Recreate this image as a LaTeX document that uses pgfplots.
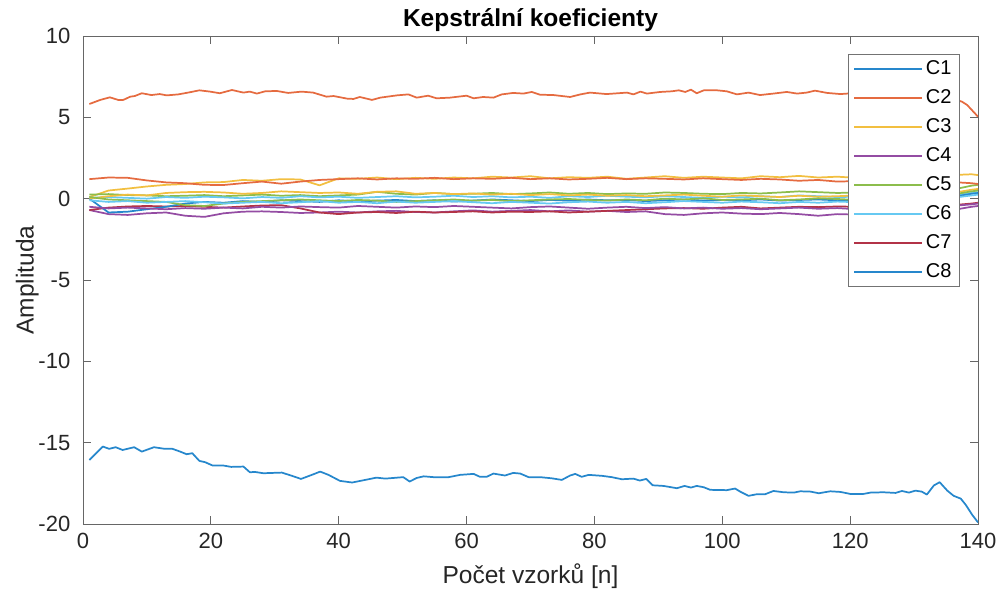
\documentclass[border=0pt]{standalone}
\usepackage{pgfplots}
\pgfplotsset{compat=1.18}
\usepackage{pgfplotstable}
\usepackage{fontspec}
\setmainfont{Liberation Sans}

\definecolor{m1}{rgb}{0.15,0.53,0.80}
\definecolor{m2}{rgb}{0.90,0.42,0.25}
\definecolor{m3}{rgb}{0.95,0.75,0.25}
\definecolor{m4}{rgb}{0.58,0.30,0.64}
\definecolor{m5}{rgb}{0.55,0.74,0.30}
\definecolor{m6}{rgb}{0.40,0.79,0.95}
\definecolor{m7}{rgb}{0.70,0.20,0.28}
\definecolor{axgray}{rgb}{0.15,0.15,0.15}

\pgfplotstableread{
x c3 c4 c5 c6 c7 c8 c9 c10 c11 c12 c13
1 0.10 -0.70 0.25 0.05 -0.70 0.00 1.20 0.00 -0.50 0.10 -0.10
4 0.50 -0.95 0.28 0.10 -0.55 -0.85 1.30 0.15 -0.60 -0.05 -0.20
7 0.62 -1.00 0.22 0.05 -0.48 -0.80 1.28 0.25 -0.55 -0.10 -0.15
10 0.75 -0.90 0.20 0.00 -0.45 -0.65 1.12 0.20 -0.60 -0.15 -0.25
13 0.85 -0.85 0.15 0.10 -0.48 -0.50 1.00 0.35 -0.65 -0.20 -0.20
16 0.90 -1.05 0.18 0.05 -0.45 -0.30 0.95 0.40 -0.58 -0.40 -0.15
19 1.00 -1.12 0.22 0.12 -0.50 -0.20 0.85 0.42 -0.62 -0.45 -0.22
22 1.02 -0.90 0.15 0.08 -0.55 -0.25 0.84 0.38 -0.55 -0.30 -0.30
25 1.15 -0.80 0.20 0.02 -0.48 -0.15 0.95 0.30 -0.60 -0.20 -0.25
28 1.10 -0.78 0.25 0.10 -0.42 -0.20 1.05 0.35 -0.50 -0.15 -0.20
31 1.20 -0.82 0.18 0.05 -0.40 -0.10 0.92 0.45 -0.55 -0.10 -0.28
34 1.18 -0.88 0.22 0.15 -0.60 -0.15 1.05 0.40 -0.48 -0.05 -0.22
37 0.82 -0.85 0.15 0.08 -0.85 -0.20 1.15 0.35 -0.52 -0.10 -0.15
40 1.25 -0.80 0.20 0.12 -0.95 -0.10 1.20 0.38 -0.55 -0.15 -0.25
43 1.22 -0.85 0.25 0.05 -0.85 -0.18 1.25 0.30 -0.45 -0.08 -0.20
46 1.30 -0.78 0.42 0.10 -0.82 -0.12 1.18 0.42 -0.50 -0.12 -0.28
49 1.20 -0.75 0.30 0.15 -0.88 -0.08 1.25 0.45 -0.55 -0.20 -0.18
52 1.28 -0.82 0.25 0.08 -0.80 -0.15 1.22 0.30 -0.48 -0.15 -0.25
55 1.22 -0.85 0.35 0.12 -0.85 -0.10 1.28 0.35 -0.52 -0.10 -0.20
58 1.30 -0.78 0.28 0.18 -0.82 -0.18 1.20 0.28 -0.45 -0.05 -0.15
61 1.25 -0.72 0.30 0.10 -0.78 -0.12 1.25 0.32 -0.50 -0.12 -0.22
64 1.35 -0.80 0.35 0.15 -0.85 -0.05 1.22 0.25 -0.55 -0.08 -0.28
67 1.30 -0.75 0.28 0.08 -0.80 -0.10 1.28 0.30 -0.60 -0.15 -0.20
70 1.38 -0.70 0.32 0.12 -0.82 -0.15 1.20 0.22 -0.52 -0.10 -0.25
73 1.25 -0.78 0.38 0.05 -0.78 -0.08 1.25 0.28 -0.48 -0.05 -0.30
76 1.32 -0.72 0.30 0.15 -0.85 -0.12 1.18 0.20 -0.55 -0.02 -0.22
79 1.28 -0.80 0.35 0.10 -0.80 -0.05 1.22 0.25 -0.62 -0.08 -0.18
82 1.35 -0.75 0.28 0.18 -0.75 -0.10 1.28 0.18 -0.55 -0.12 -0.25
85 1.22 -0.82 0.32 0.12 -0.70 -0.08 1.20 0.22 -0.50 -0.05 -0.20
88 1.30 -0.78 0.30 0.08 -0.65 -0.15 1.25 0.15 -0.58 -0.10 -0.28
91 1.38 -0.95 0.38 0.15 -0.60 -0.10 1.22 0.20 -0.52 0.00 -0.22
94 1.28 -1.00 0.35 0.10 -0.58 -0.05 1.18 0.25 -0.60 -0.05 -0.15
97 1.35 -0.90 0.30 0.05 -0.62 -0.12 1.25 0.18 -0.55 0.02 -0.20
100 1.30 -0.85 0.28 0.12 -0.55 -0.08 1.20 0.12 -0.62 -0.08 -0.25
103 1.25 -0.92 0.35 0.08 -0.50 -0.10 1.15 0.20 -0.58 -0.05 -0.18
106 1.38 -0.95 0.32 0.15 -0.60 -0.05 1.22 0.15 -0.65 0.00 -0.22
109 1.32 -0.88 0.38 0.10 -0.55 -0.12 1.18 0.10 -0.60 -0.10 -0.28
112 1.40 -0.95 0.45 0.20 -0.50 -0.08 1.10 0.18 -0.55 -0.05 -0.20
115 1.30 -1.05 0.40 0.15 -0.52 -0.05 1.15 0.12 -0.62 0.02 -0.25
118 1.35 -0.95 0.35 0.10 -0.48 -0.10 1.05 0.15 -0.58 -0.02 -0.18
121 1.28 -0.98 0.38 0.12 -0.50 -0.08 1.08 0.20 -0.65 -0.08 -0.22
124 1.38 -0.92 0.32 0.05 -0.55 -0.12 1.12 0.10 -0.60 0.00 -0.15
127 1.32 -0.95 0.36 0.10 -0.48 -0.05 1.05 0.15 -0.55 -0.05 -0.20
130 1.40 -0.90 0.30 0.08 -0.52 -0.10 1.10 0.12 -0.62 0.05 -0.25
133 1.30 -0.85 0.35 0.12 -0.50 -0.08 1.08 0.18 -0.58 0.00 -0.18
136 1.45 -0.70 0.55 0.20 -0.40 0.10 1.02 0.35 -0.45 0.25 0.05
139 1.50 -0.50 0.80 0.35 -0.30 0.30 0.95 0.55 -0.35 0.45 0.20
140 1.45 -0.45 0.85 0.40 -0.25 0.35 0.90 0.60 -0.30 0.50 0.25
}\cluster

\begin{document}
\begin{tikzpicture}
\begin{axis}[
  scale only axis, width=671.25pt, height=366pt,
  xmin=0, xmax=140, ymin=-20, ymax=10,
  xtick={0,20,...,140}, ytick={-20,-15,...,10},
  tick align=inside, major tick length=6pt,
  axis line style={draw=black!60, line width=0.6pt},
  tick style={draw=black!60, line width=0.6pt},
  /pgf/number format/assume math mode=true,
  ticklabel style={font=\fontsize{16.5}{19}\selectfont, text=axgray},
  yticklabel style={xshift=-6pt},
  xticklabel style={yshift=-3pt},
  title={\bfseries Kepstrální koeficienty},
  title style={font=\fontsize{18.4}{22}\selectfont, text=black, yshift=-6.5pt},
  xlabel={Počet vzorků [n]}, ylabel={Amplituda},
  label style={font=\fontsize{18.4}{22}\selectfont, text=axgray},
  xlabel shift=5pt, ylabel shift=-7pt,
  every axis plot/.append style={line width=1.3pt, line join=round},
  legend style={at={(1,1)}, anchor=north east, xshift=-13.5pt, yshift=-13.5pt,
    draw=black!55, line width=0.7pt, fill=white,
    font=\fontsize{15}{17}\selectfont, text=black,
    nodes={text height=11pt, text depth=3pt, inner sep=2pt},
    row sep=3.75pt, inner xsep=4pt, inner ysep=2pt},
  legend cell align=left,
  legend image code/.code={\draw[#1, line width=1.5pt] (0pt,0pt) -- (51pt,0pt);},
]
\addplot[m1] coordinates {
(1,-16.06) (3.1,-15.24) (4.1,-15.38) (5.1,-15.28) (6.2,-15.45) (8,-15.28) (9.2,-15.55)
(11.1,-15.28) (12.8,-15.38) (14,-15.38) (15.2,-15.55) (16.2,-15.71) (17.1,-15.65)
(18.2,-16.12) (19.1,-16.2) (20.3,-16.41) (22,-16.41) (23.2,-16.49) (25.1,-16.47)
(26.1,-16.82) (26.9,-16.8) (28.2,-16.88) (31.1,-16.84) (32.7,-17.04) (34.1,-17.23)
(35.8,-16.98) (37.1,-16.78) (38.4,-16.98) (40.2,-17.35) (42.1,-17.45) (43.9,-17.31)
(45.9,-17.15) (47.3,-17.21) (50.1,-17.12) (51.1,-17.39) (52.2,-17.17) (53.3,-17.07)
(54.8,-17.12) (57.2,-17.12) (59,-16.98) (61.1,-16.92) (62.1,-17.1) (63.2,-17.09)
(64.2,-16.9) (66,-17.02) (67.3,-16.86) (68.4,-16.9) (69.7,-17.12) (71.5,-17.12)
(73.3,-17.19) (74.9,-17.29) (76.2,-17.02) (77,-16.92) (78,-17.1) (79.1,-16.98)
(81.2,-17.04) (82.7,-17.12) (84.3,-17.25) (86.1,-17.21) (87.1,-17.33) (88.1,-17.23)
(89.1,-17.62) (90.8,-17.66) (92.9,-17.8) (94.1,-17.66) (95.1,-17.76) (96,-17.66)
(97.1,-17.74) (98.1,-17.9) (100.7,-17.92) (102,-17.82) (102.8,-18.01) (104.1,-18.27)
(105.4,-18.17) (106.7,-18.17) (108,-17.97) (109.6,-18.05) (111.2,-18.07) (112.2,-17.99)
(113.8,-18.01) (115.1,-18.11) (116.9,-17.99) (118.5,-18.03) (120,-18.15) (122.1,-18.15)
(123.2,-18.07) (125.2,-18.05) (127.1,-18.09) (128.1,-17.97) (129.2,-18.07) (130.2,-17.95)
(131.2,-18.01) (132,-18.19) (133.1,-17.63) (134,-17.43) (135.2,-17.95) (136.2,-18.27)
(137.3,-18.44) (138.1,-18.83) (139.1,-19.44) (140,-19.9)
};
\addlegendentry{C1}
\addplot[m2] coordinates {
(1,5.82) (2.7,6.07) (4.2,6.23) (5.5,6.07) (6.3,6.07) (7.4,6.27) (8.1,6.31) (9.2,6.48)
(10.7,6.37) (12,6.43) (13.1,6.35) (14.9,6.41) (16.7,6.54) (18.2,6.66) (19.9,6.58)
(21.4,6.48) (23.3,6.68) (25.1,6.52) (26.1,6.58) (27.2,6.46) (28.5,6.6) (30.3,6.62)
(32.1,6.5) (34.2,6.58) (36,6.52) (38.1,6.27) (39.2,6.31) (41.3,6.15) (42.3,6.13)
(43.3,6.25) (45.2,6.07) (46.5,6.21) (49.1,6.35) (50.9,6.41) (52.2,6.21) (54,6.33)
(55.3,6.17) (57.4,6.21) (60,6.33) (61.1,6.17) (62.6,6.25) (64.2,6.21) (65.5,6.41)
(67.3,6.5) (68.9,6.46) (70.2,6.56) (71.5,6.39) (73.6,6.37) (76.2,6.25) (77.8,6.41)
(79.3,6.52) (81.9,6.43) (85.1,6.52) (86.1,6.41) (87.2,6.58) (88.2,6.46) (90.3,6.56)
(92.1,6.6) (93.2,6.66) (94.2,6.56) (95.1,6.7) (96,6.48) (97.1,6.66) (99.2,6.66)
(100.7,6.6) (102.3,6.41) (104.1,6.52) (105.9,6.37) (108,6.46) (110.1,6.56) (111.7,6.46)
(113.2,6.52) (114.5,6.64) (116.4,6.5) (118.5,6.43) (121,6.5) (124,6.4) (127,6.48)
(130,6.42) (133,6.5) (135.5,6.3) (136.5,6.1) (137.5,5.96) (138.3,5.76) (140,5.04)
};
\addlegendentry{C2}
\addplot[m3] table[x=x, y=c3] {\cluster};
\addlegendentry{C3}
\addplot[m4] table[x=x, y=c4] {\cluster};
\addlegendentry{C4}
\addplot[m5] table[x=x, y=c5] {\cluster};
\addlegendentry{C5}
\addplot[m6] table[x=x, y=c6] {\cluster};
\addlegendentry{C6}
\addplot[m7] table[x=x, y=c7] {\cluster};
\addlegendentry{C7}
\addplot[m1] table[x=x, y=c8] {\cluster};
\addlegendentry{C8}
\addplot[m2, forget plot] table[x=x, y=c9] {\cluster};
\addplot[m3, forget plot] table[x=x, y=c10] {\cluster};
\addplot[m4, forget plot] table[x=x, y=c11] {\cluster};
\addplot[m5, forget plot] table[x=x, y=c12] {\cluster};
\addplot[m6, forget plot] table[x=x, y=c13] {\cluster};
\end{axis}
\pgfresetboundingbox
\path[use as bounding box] (-62.25pt,-55.5pt) rectangle (688.5pt,393pt);
\end{tikzpicture}
\end{document}
